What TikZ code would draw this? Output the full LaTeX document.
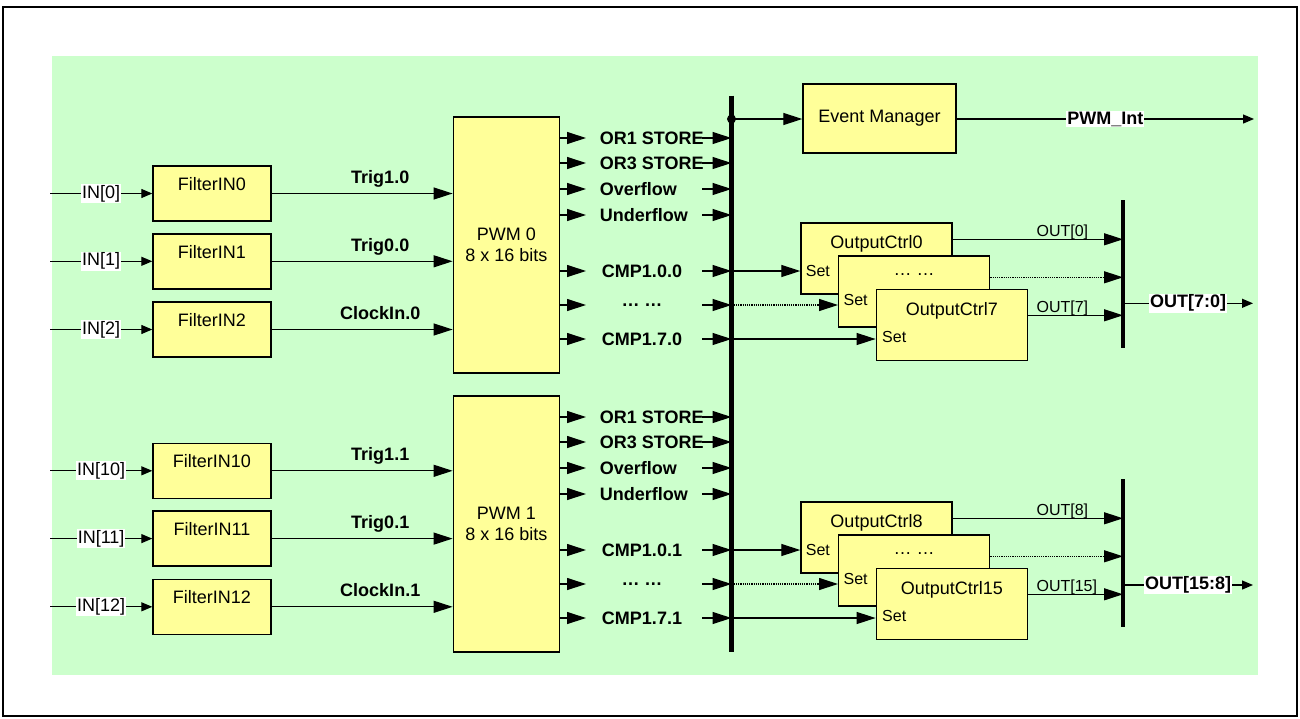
\documentclass[tikz,border=0pt]{standalone}
\usepackage{fontspec}
\setmainfont{Liberation Sans}
\usetikzlibrary{arrows.meta,positioning}
\definecolor{PwmBgGreen}{RGB}{204,255,204}
\definecolor{PwmBoxYellow}{RGB}{255,255,153}

\begin{document}
\begin{tikzpicture}[x=1pt,y=-1pt,line width=1.2pt,font=\fontsize{18}{21}\selectfont,
  blk/.style n args={2}{draw,fill=PwmBoxYellow,line width=1.4pt,rectangle,inner sep=0pt,minimum width=#1,minimum height=#2},
  bigarr/.style={-{Triangle[length=19pt,width=12pt]}},
  smallarr/.style={-{Triangle[length=11pt,width=9pt]}},
  sig/.style={font=\fontsize{18}{21}\selectfont\bfseries},
  sml/.style={font=\fontsize{16}{19}\selectfont},
  wlab/.style={fill=white,inner sep=1pt},
  bus/.style={line width=4.5pt},
  every label/.style={inner sep=0pt}]
\useasboundingbox (0,0) rectangle (1300,718);
\fill[PwmBgGreen] (52,56) rectangle (1258,675);
\draw[line width=1.5pt] (3,7) rectangle (1297,716);

% PWM blocks
\node[blk={106pt}{256pt},align=center] (pwm0) at (506.3,245) {PWM 0\\8 x 16 bits};
\node[blk={106pt}{256pt},align=center] (pwm1) at (506.3,524) {PWM 1\\8 x 16 bits};

% input filters
\foreach \g/\dy/\pre in {0/0/{},1/277.3/1} {
  \foreach \k/\yy/\sg in {0/193.5/Trig1,1/261.3/Trig0,2/329.5/ClockIn} {
    \node[blk={118pt}{55pt},label={[anchor=base,yshift=-25pt]north:FilterIN\pre\k}] (fin\g-\k) at (212,\yy+\dy) {};
    \coordinate (src\g-\k) at (50,\yy+\dy);
    \draw[smallarr] (src\g-\k) -- node[wlab] (inlab\g-\k) {IN[\pre\k]} (fin\g-\k);
    \draw[bigarr] (fin\g-\k) -- node[sig,pos=0.6,anchor=base,yshift=10pt] (trg\g-\k) {\sg.\g} (pwm\g.west |- fin\g-\k);
  }
}

% PWM outputs to the event bus
\foreach \g/\dy in {0/0,1/279} {
  \foreach \r/\yy/\lx/\an/\txt in {a/138/596/west/OR1 STORE,b/163/596/west/OR3 STORE,c/189/596/west/Overflow,d/215/596/west/Underflow,e/271/642/center/CMP1.0.\g,f/305/642/center/{… …},h/339/642/center/CMP1.7.\g} {
    \coordinate (po\g-\r) at (586,\yy+\dy);
    \coordinate (pi\g-\r) at (702,\yy+\dy);
    \coordinate (bi\g-\r) at (731.5,\yy+\dy);
    \draw[bigarr] (pwm\g.east |- po\g-\r) -- (po\g-\r);
    \node[sig,anchor=\an] (ev\g-\r) at (\lx,\yy+\dy) {\txt};
    \draw[bigarr] (pi\g-\r) -- (bi\g-\r);
  }
}

% output controllers
\foreach \g/\dy/\na/\nb/\oy/\rng in {0/0/0/7/303.3/7:0,1/279/8/15/585/15:8} {
  \node[blk={151pt}{71pt},label={[anchor=base,yshift=-26pt]north:OutputCtrl\na},
    label={[sml,anchor=base west,xshift=5pt,yshift=-18pt]west:Set}] (oc\g-a) at (876.5,258.5+\dy) {};
  \node[blk={151pt}{71pt},label={[anchor=base,yshift=-20.5pt]north:… …},
    label={[sml,anchor=base west,xshift=5pt,yshift=-14pt]west:Set}] (oc\g-b) at (914.2,291.5+\dy) {};
  \node[blk={151pt}{71pt},label={[anchor=base,yshift=-27pt]north:OutputCtrl\nb},
    label={[sml,anchor=base west,xshift=6pt,yshift=-17.6pt]west:Set}] (oc\g-c) at (951.8,324.8+\dy) {};
  \draw[bigarr] (bi\g-e) -- (oc\g-a.west |- bi\g-e);
  \draw[bigarr,densely dotted] (bi\g-f) -- (oc\g-b.west |- bi\g-f);
  \draw[bigarr] (bi\g-h) -- (oc\g-c.west |- bi\g-h);
  \coordinate (ob\g-a) at (1123,239.3+\dy);
  \coordinate (ob\g-b) at (1123,277.3+\dy);
  \coordinate (ob\g-c) at (1123,315.3+\dy);
  \draw[bigarr] (oc\g-a.east |- ob\g-a) -- (ob\g-a);
  \draw[bigarr,densely dotted] (oc\g-b.east |- ob\g-b) -- (ob\g-b);
  \draw[bigarr] (oc\g-c.east |- ob\g-c) -- (ob\g-c);
  \node[sml,inner sep=0pt,anchor=base west] (olab\g-a) at (1036,236.5+\dy) {OUT[\na]};
  \node[sml,inner sep=0pt,anchor=base west] (olab\g-c) at (1036,312.5+\dy) {OUT[\nb]};
  \coordinate (obt\g) at (1123,200+\dy);
  \coordinate (obb\g) at (1123,348+\dy);
  \draw[bus] (obt\g) -- (obb\g);
  \coordinate (oend\g) at (1253,\oy);
  \draw[smallarr] (obt\g |- oend\g) -- node[wlab,sig] (outlab\g) {OUT[\rng]} (oend\g);
}

% event bus and event manager
\coordinate (bustop) at (731.5,95.5);
\coordinate (busbot) at (731.5,652);
\coordinate (evtap) at (731.5,119);
\draw[bus] (bustop) -- (busbot);
\fill (evtap) circle (4.5pt);
\node[blk={153pt}{69pt}] (evm) at (879.5,118.4) {Event Manager};
\draw[bigarr] (evtap) -- (evm.west |- evtap);
\coordinate (pwmint) at (1254,119);
\draw[smallarr] (evm.east |- pwmint) -- node[wlab,sig] (intlab) {PWM\_Int} (pwmint);
\end{tikzpicture}
\end{document}
